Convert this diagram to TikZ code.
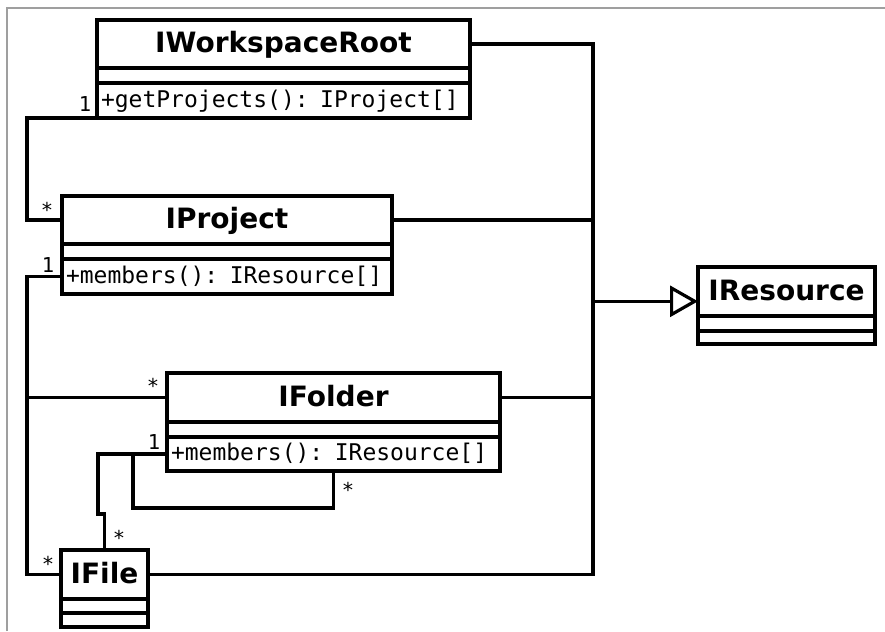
\documentclass[tikz,border=0pt]{standalone}
\usepackage{fontspec}
\setmainfont{DejaVu Sans}
\setmonofont{DejaVu Sans Mono}
\usetikzlibrary{arrows.meta,calc}

\newcommand{\clsname}{\fontsize{28}{32}\selectfont\bfseries}
\newcommand{\clsop}{\fontsize{23}{27}\selectfont\ttfamily}
\newcommand{\multfont}{\fontsize{20.5}{24}\selectfont\ttfamily}

\tikzset{
  part/.style={draw, line width=3.5pt, inner sep=0pt, outer sep=0pt, anchor=north west, fill=white},
  titlebox/.style={part, minimum height=48pt, font=\clsname, text height=22.4pt, text depth=4.5pt},
  attrbox/.style={part, minimum height=15pt},
  opsbox/.style={part, minimum height=35pt, inner xsep=4pt, align=left, font=\clsop,
                 text height=18.4pt, text depth=4.6pt},
  emptyops/.style={part, minimum height=14pt},
  conn/.style={line width=3.2pt, line join=miter},
  mult/.style={font=\multfont, anchor=base, inner sep=0pt},
}

\begin{document}
\begin{tikzpicture}[x=1pt, y=-1pt]
\useasboundingbox (0,0) rectangle (885,631);
\fill[white] (0,0) rectangle (885,631);
% frame
\draw[gray!75, line width=1.2pt] (7,631) -- (7,8) -- (885,8);

% x positions of the two vertical rails
\coordinate (lx) at (27,0);
\coordinate (bx) at (593,0);

% IWorkspaceRoot
\node[titlebox, minimum width=373pt] (wsT) at (97,20) {IWorkspaceRoot};
\node[attrbox, minimum width=373pt] (wsA) at (wsT.south west) {};
\node[opsbox, text width=365pt] (wsO) at (wsA.south west) {+getProjects(): IProject[]};

% IProject
\node[titlebox, minimum width=330pt] (pjT) at (62,196) {IProject};
\node[attrbox, minimum width=330pt] (pjA) at (pjT.south west) {};
\node[opsbox, text width=322pt] (pjO) at (pjA.south west) {+members(): IResource[]};

% IFolder
\node[titlebox, minimum width=333pt, minimum height=49pt] (foT) at (167,373) {IFolder};
\node[attrbox, minimum width=333pt] (foA) at (foT.south west) {};
\node[opsbox, text width=325pt, minimum height=34pt] (foO) at (foA.south west) {+members(): IResource[]};

% IFile
\node[titlebox, minimum width=87pt, minimum height=49pt] (fiT) at (61,550) {IFile};
\node[attrbox, minimum width=87pt, minimum height=14pt] (fiA) at (fiT.south west) {};
\node[emptyops, minimum width=87pt] (fiO) at (fiA.south west) {};

% IResource
\node[titlebox, minimum width=177pt, minimum height=49pt] (rsT) at (698,267) {IResource};
\node[attrbox, minimum width=177pt] (rsA) at (rsT.south west) {};
\node[emptyops, minimum width=177pt, minimum height=13pt] (rsO) at (rsA.south west) {};

% associations on the left
\draw[conn] (wsO.south west) -- (wsO.south west -| lx) -- (lx |- pjT.west) -- (pjT.west);
\draw[conn] (pjO.west) -- (lx |- pjO.west) -- (lx |- fiT.west) -- (fiT.west);
\draw[conn] (lx |- foT.west) -- (foT.west);

\coordinate (j1) at (98,514);
\draw[conn] (foO.west) -- (j1 |- foO.west) -- (j1) -- (j1 -| fiT.north) -- (fiT.north);
\coordinate (j2) at (133,508);
\draw[conn] (j2 |- foO.west) -- (j2) -- (j2 -| foO.south) -- (foO.south);

% generalisation bus
\draw[conn] (wsT.east) -- (bx |- wsT.east) -- (bx |- fiT.east) -- (fiT.east);
\draw[conn] (pjT.east) -- (bx |- pjT.east);
\draw[conn] (foT.east) -- (bx |- foT.east);
\coordinate (ra) at ($(rsT.south west)!0.3!(rsT.north west)$);
\draw[conn, -{Triangle[open, length=28pt, width=31pt, line width=3.2pt]}] (bx |- ra) -- (ra);

% multiplicities
\node[mult] (m1) at (85,112) {1};
\node[mult] (m2) at (47,217) {*};
\node[mult] (m3) at (48,272) {1};
\node[mult] (m4) at (153,393) {*};
\node[mult] (m5) at (154,449) {1};
\node[mult] (m6) at (348,497) {*};
\node[mult] (m7) at (119,545) {*};
\node[mult] (m8) at (48,571) {*};
\end{tikzpicture}
\end{document}
